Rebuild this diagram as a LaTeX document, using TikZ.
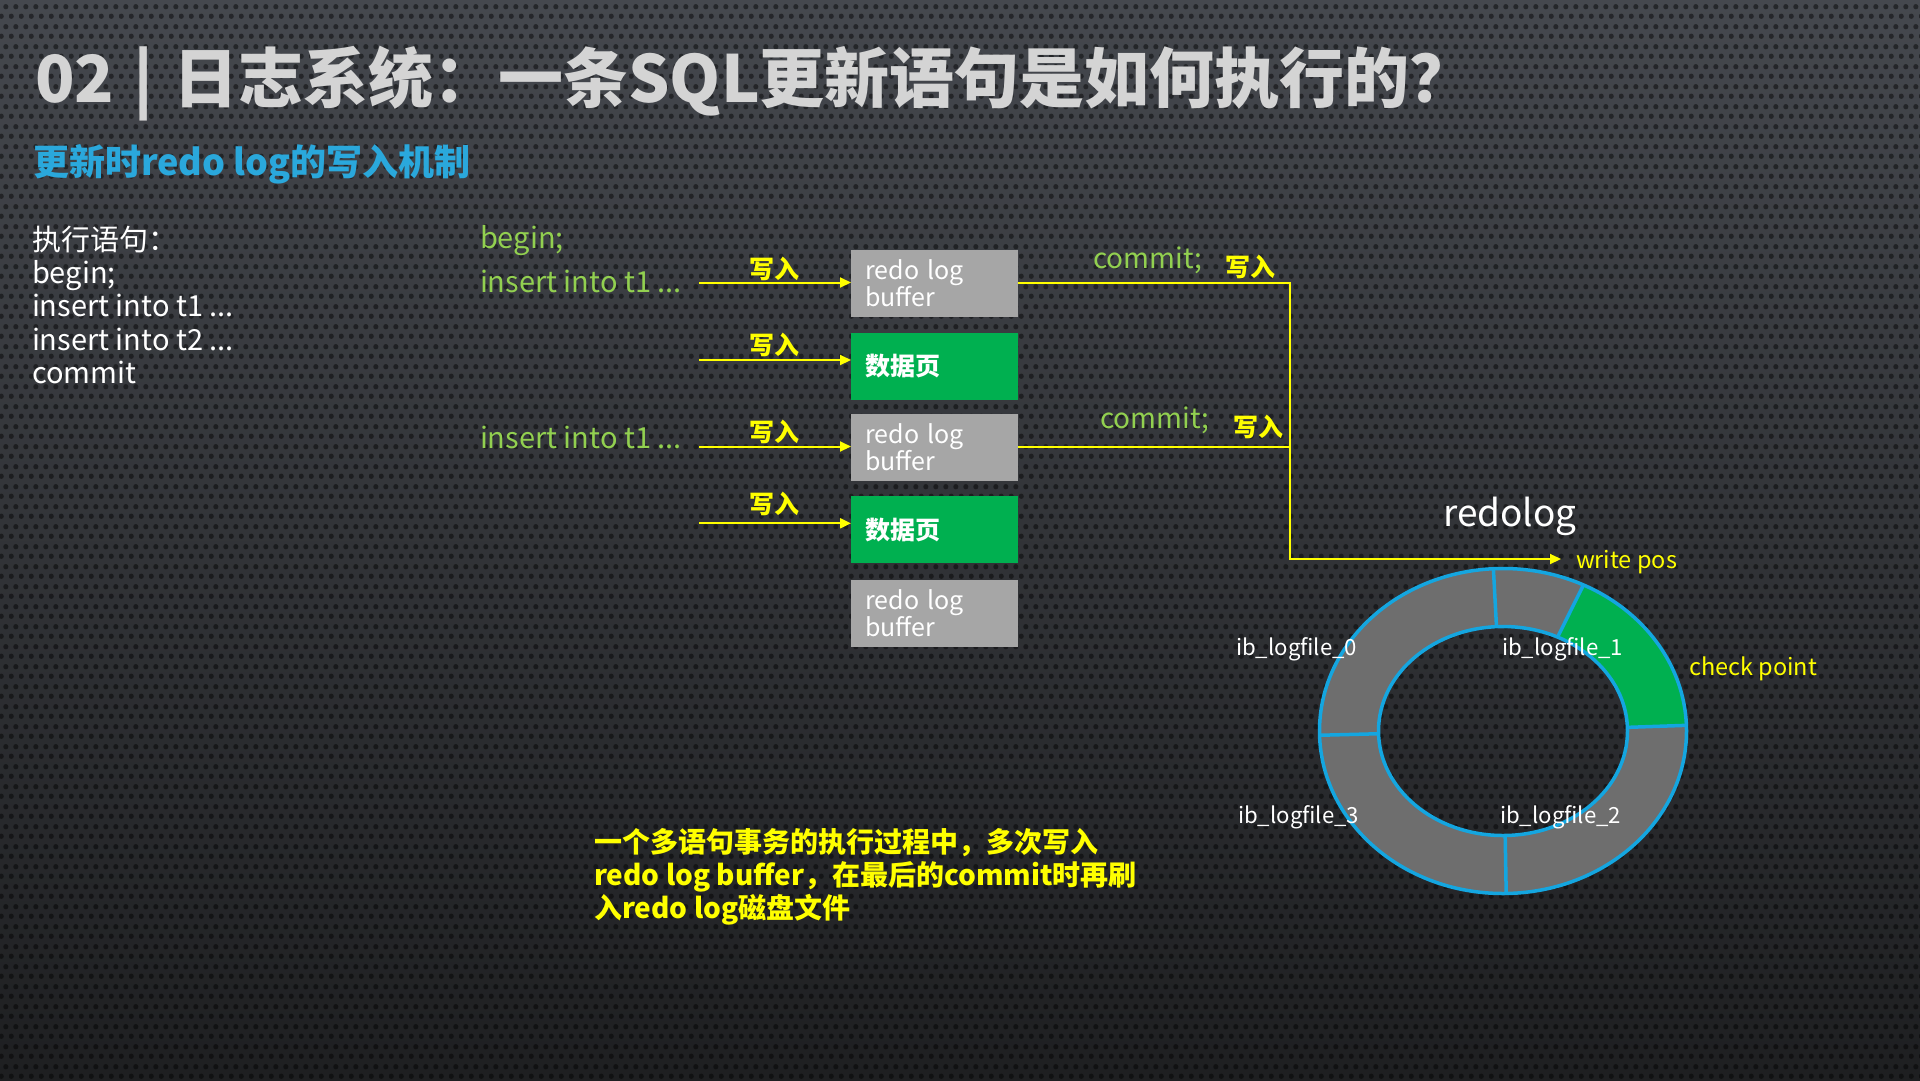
\documentclass[tikz,border=0pt]{standalone}
\usepackage{fontspec}
\setmainfont{Noto Sans CJK SC}
\usetikzlibrary{arrows.meta,patterns}

\definecolor{titlegrey}{HTML}{D4D4D4}
\definecolor{subcyan}{HTML}{2AA8DC}
\definecolor{codegreen}{HTML}{92D050}
\definecolor{hiyellow}{HTML}{FFFF00}
\definecolor{bufgrey}{HTML}{A6A6A6}
\definecolor{pagegreen}{HTML}{00B050}
\definecolor{ringgrey}{HTML}{6E6E6E}
\definecolor{ringblue}{HTML}{14A6E0}
\definecolor{bgtop}{HTML}{45484E}
\definecolor{bgmid}{HTML}{33353A}
\definecolor{bgbot}{HTML}{1E1F21}

\newcommand\setfs[2]{\fontsize{#1}{#2}\selectfont}

% perforated metal texture: staggered dots, 10pt apart in a row, rows 10pt apart
\pgfdeclarepatternformonly{perfdots}{\pgfqpoint{0pt}{0pt}}{\pgfqpoint{10pt}{20pt}}{\pgfqpoint{10pt}{20pt}}{%
  \pgfpathcircle{\pgfqpoint{2.5pt}{5pt}}{2.8pt}%
  \pgfpathcircle{\pgfqpoint{7.5pt}{15pt}}{2.8pt}%
  \pgfusepath{fill}}

% ring radii (outer and inner ellipse), in pt
\newcommand\rox{183.5}\newcommand\roy{162.5}
\newcommand\rix{124.5}\newcommand\riy{104.5}
% one piece of the elliptical ring between two parameter angles
\newcommand\ringpiece[3]{%
  \fill[#1] (#2:\rox pt and \roy pt) arc[start angle=#2, end angle=#3, x radius=\rox pt, y radius=\roy pt]
    -- (#3:\rix pt and \riy pt) arc[start angle=#3, end angle=#2, x radius=\rix pt, y radius=\riy pt] -- cycle;}

\begin{document}
\begin{tikzpicture}[x=1pt, y=-1pt,
  txt/.style={inner sep=0pt, outer sep=0pt},
  stmt/.style={txt, anchor=base west, text=white, align=left, font=\setfs{29}{33.3}},
  code/.style={txt, anchor=base west, text=codegreen, font=\setfs{29}{33}},
  commitlbl/.style={txt, anchor=base west, text=codegreen, font=\setfs{28}{33}},
  wlabel/.style={txt, text=hiyellow, font=\bfseries\setfs{25}{28}},
  bufbox/.style={anchor=north west, fill=bufgrey, minimum width=167pt, minimum height=67pt,
    text width=139pt, inner xsep=14pt, inner ysep=0pt, align=left, text=white,
    font=\setfs{25}{27}},
  pagebox/.style={bufbox, fill=pagegreen, font=\bfseries\setfs{25}{27}},
  yline/.style={draw=hiyellow, line width=2pt},
  yarrow/.style={yline, -{Triangle[length=11pt,width=10pt]}},
  ringlabel/.style={txt, anchor=base west, text=white, font=\setfs{22.2}{26}},
  ylabel/.style={txt, anchor=base west, text=hiyellow, font=\setfs{23.5}{28}},
  ringline/.style={draw=ringblue, line width=3.5pt}]

% background
\useasboundingbox (0,0) rectangle (1920,1080);
\shade[top color=bgtop, middle color=bgmid, bottom color=bgbot] (0,0) rectangle (1920,1080);
\fill[pattern=perfdots, pattern color=black, fill opacity=0.45] (0,0) rectangle (1920,1080);

% headings
\node[txt, anchor=base west, text=titlegrey, font=\bfseries\setfs{65}{72}] (title) at (35,102)
  {02\hspace{0.3em}|\hspace{0.3em}日志系统：一条SQL更新语句是如何执行的？};
\node[txt, anchor=base west, text=subcyan, font=\bfseries\setfs{36}{40}] (subtitle) at (33,175)
  {更新时redo log的写入机制};

% statement list (base anchor sits on the last line)
\node[stmt] (stmts) at (32,383.3)
  {执行语句：\\begin;\\insert into t1 ...\\insert into t2 ...\\commit};

% transaction steps
\node[code] (cbegin) at (480,248) {begin;};
\node[code] (cins1) at (480,292) {insert into t1 ...};
\node[code] (cins2) at (480,448) {insert into t1 ...};

% buffers and data pages
\node[bufbox] (b1) at (851,249.3) {redo log\\buffer};
\node[pagebox] (b2) at (851,332.7) {数据页};
\node[bufbox] (b3) at (851,413.3) {redo log\\buffer};
\node[pagebox] (b4) at (851,496) {数据页};
\node[bufbox] (b5) at (851,580) {redo log\\buffer};

% write arrows into the boxes
\coordinate (s1) at (699,282.5);
\coordinate (s2) at (699,360);
\coordinate (s3) at (699,446.5);
\coordinate (s4) at (699,523.3);
\draw[yarrow] (s1) -- (s1 -| b1.west);
\draw[yarrow] (s2) -- (s2 -| b2.west);
\draw[yarrow] (s3) -- (s3 -| b3.west);
\draw[yarrow] (s4) -- (s4 -| b4.west);
\node[wlabel] (w1) at (774,269) {写入};
\node[wlabel] (w2) at (774,345) {写入};
\node[wlabel] (w3) at (774,432) {写入};
\node[wlabel] (w4) at (774,503.5) {写入};

% commit: flush to the redo log
\coordinate (corner) at (1290,559);
\coordinate (wp) at (1561,559);
\draw[yarrow] (b1.east) -- (b1.east -| corner) -- (corner) -- (wp);
\draw[yline] (b3.east) -- (b3.east -| corner);
\node[commitlbl] (com1) at (1093,268) {commit;};
\node[commitlbl] (com2) at (1100,428.5) {commit;};
\node[wlabel] (w5) at (1250,267) {写入};
\node[wlabel] (w6) at (1258,427) {写入};

% redo log ring
\node[txt, anchor=base west, text=white, font=\setfs{37}{40}] (redolog) at (1443,526) {redolog};
\begin{scope}[shift={(1503,731)}, y=1pt]
  \ringpiece{ringgrey}{93}{181.5}
  \ringpiece{ringgrey}{181.5}{271}
  \ringpiece{ringgrey}{271}{362}
  \ringpiece{ringgrey}{64}{93}
  \ringpiece{pagegreen}{2}{64}
  \draw[ringline] (0,0) ellipse[x radius=\rox pt, y radius=\roy pt];
  \draw[ringline] (0,0) ellipse[x radius=\rix pt, y radius=\riy pt];
  \foreach \a in {2,64,93,181.5,271}
    \draw[ringline] (\a:\rix pt and \riy pt) -- (\a:\rox pt and \roy pt);
\end{scope}
\node[ylabel] (wpos) at (1576,568) {write pos};
\node[ylabel] (ckpt) at (1689,675) {check point};
\node[ringlabel] (f0) at (1236,655) {ib\_logfile\_0};
\node[ringlabel] (f1) at (1502,655) {ib\_logfile\_1};
\node[ringlabel] (f3) at (1238,823) {ib\_logfile\_3};
\node[ringlabel] (f2) at (1500,823) {ib\_logfile\_2};

% note (base anchor sits on the last line)
\node[txt, anchor=base west, align=left, text=hiyellow, font=\bfseries\setfs{28}{33}] (note) at (594,918)
  {一个多语句事务的执行过程中，多次写入\\redo log buffer，在最后的commit时再刷\\入redo log磁盘文件};
\end{tikzpicture}
\end{document}
